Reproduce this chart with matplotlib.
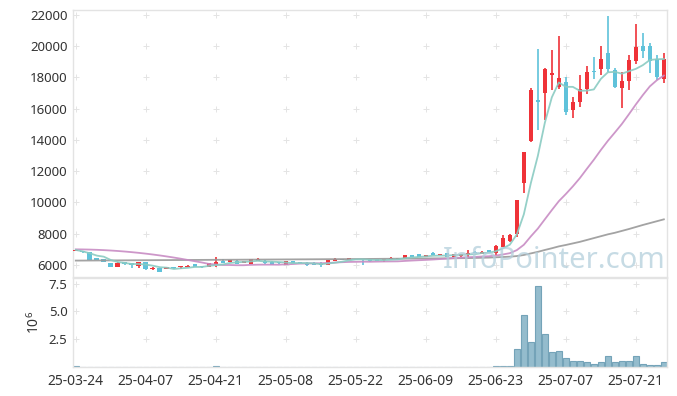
import numpy as np
import pandas as pd
import matplotlib
matplotlib.use('Agg')
import matplotlib.pyplot as plt

plt.rcParams['font.family'] = ['Noto Sans', 'DejaVu Sans']
plt.rcParams['mathtext.fontset'] = 'custom'
plt.rcParams['mathtext.rm'] = 'Noto Sans'
plt.rcParams['mathtext.it'] = 'Noto Sans'

# KRX trading days, 2025-03-24 .. 2025-07-25
start_date = '2025-03-24'
end_date = '2025-07-25'
holidays = ['2025-05-01', '2025-05-05', '2025-05-06', '2025-06-03', '2025-06-06']

opens = [6900, 6900, 6820, 6450, 6360, 6130, 5890, 6170, 6100, 5930,
         6180, 5730, 5780, 5750, 5850, 5850, 5890, 6060, 5940, 5890,
         6000, 6270, 6190, 6270, 6110, 6060, 6270, 6270, 6210, 6200,
         6000, 6250, 6190, 6150, 6150, 6150, 6000, 6270, 6380, 6320,
         6400, 6400, 6380, 6380, 6320, 6380, 6400, 6360, 6640, 6700,
         6530, 6750, 6640, 6750, 6490, 6560, 6640, 6850, 6680, 6960,
         6790, 7170, 7550, 7980, 11270, 13950, 16560, 16990, 18180, 17410,
         17730, 15920, 16410, 17240, 18430, 18520, 19590, 18480, 17310, 17790,
         19070, 20010, 20010, 19180, 17900]
closes = [6950, 6800, 6350, 6330, 6220, 5890, 6150, 6050, 6000, 6210,
          5720, 5790, 5570, 5850, 5790, 5930, 5950, 5850, 5850, 6110,
          6210, 6150, 6320, 6060, 6230, 6360, 6360, 6110, 6000, 6100,
          6250, 6150, 6110, 6000, 6000, 6020, 6320, 6380, 6300, 6450,
          6320, 6360, 6230, 6250, 6380, 6450, 6450, 6640, 6490, 6530,
          6640, 6640, 6700, 6490, 6700, 6720, 6790, 6750, 6850, 6790,
          7220, 7710, 7920, 10160, 13210, 17200, 16420, 18520, 18310, 17950,
          15810, 16410, 17260, 18370, 18330, 19180, 18520, 17410, 17780, 19120,
          19930, 19710, 19070, 18010, 19180]
highs = [7000, 6920, 6830, 6460, 6380, 6140, 6160, 6200, 6120, 6220,
         6190, 5850, 5790, 5870, 5870, 5960, 5970, 6070, 5960, 6120,
         6530, 6380, 6330, 6290, 6250, 6380, 6420, 6290, 6230, 6210,
         6260, 6260, 6200, 6160, 6160, 6160, 6330, 6420, 6390, 6460,
         6410, 6410, 6390, 6390, 6390, 6500, 6460, 6650, 6650, 6710,
         6650, 6820, 6710, 6760, 6710, 6730, 6960, 6870, 6870, 6980,
         7280, 7920, 7980, 10180, 13250, 17300, 19800, 18600, 19780, 20650,
         18050, 16770, 18160, 18730, 19290, 20010, 21950, 18600, 18370, 19440,
         21420, 20830, 20220, 19440, 19550]
lows = [6880, 6780, 6340, 6300, 6200, 5880, 5870, 5980, 5790, 5800,
        5700, 5680, 5540, 5720, 5760, 5750, 5880, 5840, 5830, 5880,
        5890, 6100, 6180, 6050, 6100, 6050, 6260, 6090, 5990, 6080,
        5990, 6140, 6100, 5950, 5980, 5900, 5990, 6260, 6290, 6310,
        6300, 6000, 6220, 6240, 6200, 6370, 6390, 6360, 6480, 6520,
        6520, 6630, 6630, 6480, 6480, 6540, 6530, 6740, 6680, 6770,
        6640, 7150, 7490, 7810, 10630, 13900, 14640, 15280, 17200, 17260,
        15600, 15390, 16130, 16920, 17900, 18160, 18370, 17330, 16030, 17200,
        18860, 19230, 18270, 17840, 17630]
volumes = [90000, 20000, 30000, 20000, 15000, 25000, 20000, 15000, 20000, 30000,
           25000, 20000, 30000, 15000, 20000, 15000, 10000, 20000, 15000, 20000,
           100000, 30000, 20000, 15000, 20000, 25000, 15000, 20000, 25000, 15000,
           20000, 15000, 10000, 20000, 15000, 25000, 20000, 15000, 10000, 20000,
           15000, 30000, 20000, 15000, 20000, 25000, 15000, 30000, 20000, 25000,
           15000, 20000, 15000, 25000, 20000, 30000, 35000, 25000, 30000, 40000,
           90000, 110000, 80000, 1660000, 4660000, 2230000, 7260000, 2950000, 1330000, 1420000,
           850000, 520000, 520000, 430000, 310000, 430000, 970000, 430000, 520000, 520000,
           970000, 310000, 220000, 220000, 430000]

# moving-average values read where the window reaches before the first day
ma5_head = [6960, 6870, 6750, 6600]
ma20_head = [7000, 6995, 6985, 6970, 6950, 6925, 6895, 6860, 6820, 6775,
             6725, 6670, 6610, 6545, 6475, 6400, 6320, 6240, 6160]
ma120 = [6280, 6282, 6285, 6287, 6290, 6292, 6295, 6297, 6300, 6302,
         6305, 6307, 6310, 6312, 6315, 6317, 6320, 6322, 6325, 6327,
         6330, 6332, 6335, 6337, 6340, 6342, 6345, 6347, 6350, 6352,
         6355, 6357, 6360, 6362, 6365, 6367, 6370, 6372, 6375, 6377,
         6380, 6383, 6387, 6390, 6394, 6397, 6401, 6405, 6409, 6413,
         6417, 6420, 6423, 6426, 6430, 6435, 6440, 6450, 6460, 6470,
         6490, 6510, 6530, 6570, 6640, 6740, 6840, 6960, 7070, 7190,
         7280, 7380, 7480, 7600, 7720, 7840, 7960, 8060, 8180, 8300,
         8430, 8560, 8680, 8800, 8920]

watermark = 'InfoPointer.com'

dates = pd.bdate_range(start_date, end_date)
dates = dates[~dates.isin(pd.to_datetime(holidays))]
x = np.arange(len(dates))

close_s = pd.Series(closes, dtype=float)
ma5 = close_s.rolling(5).mean().to_numpy()
ma5[:len(ma5_head)] = ma5_head
ma20 = close_s.rolling(20).mean().to_numpy()
ma20[:len(ma20_head)] = ma20_head

up_color = '#ef3238'
down_color = '#5fc2da'
spine_color = '#e3e3e3'
text_color = '#333333'

fig = plt.figure(figsize=(6.77, 3.96), dpi=100)
ax = fig.add_axes([73 / 677, 1 - 277 / 396, 594 / 677, 267 / 396])
axv = fig.add_axes([73 / 677, 1 - 367 / 396, 594 / 677, 89 / 396], sharex=ax)

o = np.array(opens)
c = np.array(closes)
colors = np.where(c >= o, up_color, down_color)
ax.vlines(x, lows, highs, colors=colors, linewidth=1.2, zorder=2)
ax.bar(x, c - o, bottom=o, width=0.66, color=colors, linewidth=0, zorder=3)

ax.plot(x, ma120, color='#999999', lw=1.3, alpha=0.9, zorder=4)
ax.plot(x, ma20, color='#c88cc4', lw=1.3, alpha=0.9, zorder=4)
ax.plot(x, ma5, color='#8acbc2', lw=1.3, alpha=0.9, zorder=4)

axv.bar(x, volumes, width=0.9, color='#94bccd', edgecolor='#74a3b8', linewidth=0.8, zorder=2)

ax.set_xlim(-0.4, len(x) - 0.55)
ax.set_ylim(5230, 22320)
ax.set_yticks(np.arange(6000, 22001, 2000))
axv.set_ylim(0, 8e6)
axv.set_yticks([2.5e6, 5e6, 7.5e6])
axv.set_yticklabels(['2.5', '5.0', '7.5'])
axv.set_ylabel('$10^6$', fontsize=10, color=text_color, labelpad=4)

tick_pos = x[::10]
axv.set_xticks(tick_pos)
axv.set_xticklabels([d.strftime('%y-%m-%d') for d in dates[::10]])
ax.tick_params(axis='x', labelbottom=False)

for a in (ax, axv):
    a.tick_params(length=0, labelsize=9.5, labelcolor=text_color, pad=4)
    a.tick_params(axis='x', labelsize=10, pad=5)
    for s in a.spines.values():
        s.set_color(spine_color)
        s.set_linewidth(1)
    gx, gy = np.meshgrid(tick_pos, a.get_yticks())
    a.plot(gx.ravel(), gy.ravel(), '+', color='#e4e4e4', ms=4, mew=0.7, zorder=0)

fig.text(443 / 677, 1 - 268 / 396, watermark, fontsize=21, color='#b4cfdc',
         alpha=0.75, ha='left', va='baseline', zorder=10)

fig.savefig('out.png', dpi=100)
